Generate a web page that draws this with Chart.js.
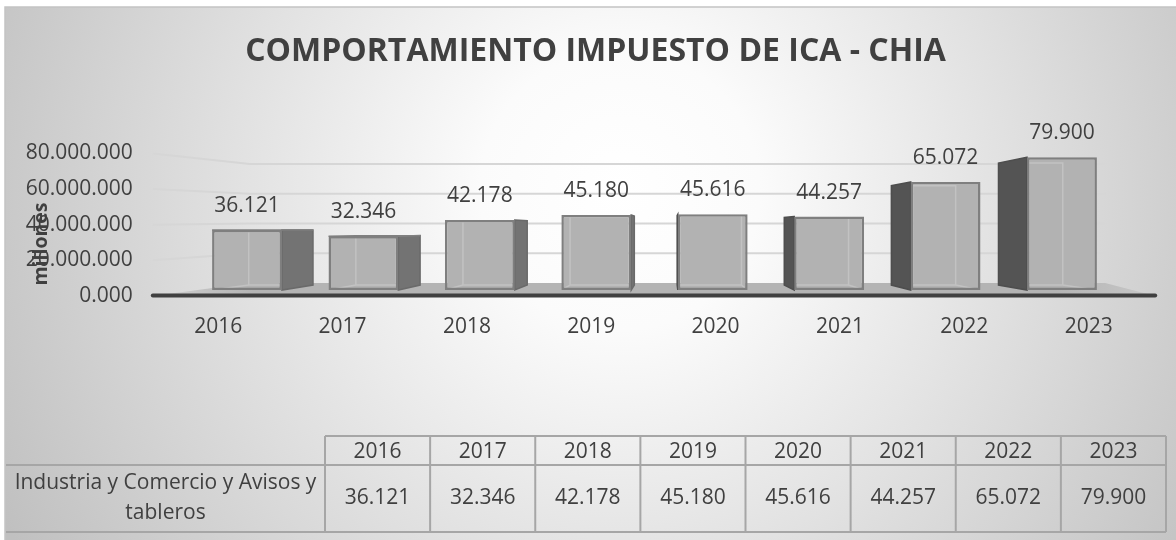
<!DOCTYPE html>
<html>
<head>
<meta charset="utf-8">
<script src="https://cdn.jsdelivr.net/npm/chart.js@4/dist/chart.umd.min.js"></script>
<style>
  html, body { margin: 0; padding: 0; background: #ffffff; }
  #wrap { width: 1176px; height: 540px; }
</style>
</head>
<body>
<div id="wrap"><canvas id="c" width="1176" height="540"></canvas></div>
<script>
// ---- DATA ----
const chartTitle = 'COMPORTAMIENTO IMPUESTO DE ICA - CHIA';
const categories = ['2016', '2017', '2018', '2019', '2020', '2021', '2022', '2023'];
const seriesName = 'Industria y Comercio y Avisos y tableros';
const seriesLabelLines = ['Industria y Comercio y Avisos y', 'tableros'];
const icaValues = [36121, 32346, 42178, 45180, 45616, 44257, 65072, 79900];
const yTickValues = [0, 20000, 40000, 60000, 80000];
const yTickLabels = ['0.000', '20.000.000', '40.000.000', '60.000.000', '80.000.000'];
const yAxisTitle = 'millones';

// ---- STYLE ----
const FONT = "'Open Sans', 'DejaVu Sans', sans-serif";
const TEXT = '#404040';
const V = { x: 670, y: 228 };      // perspective vanishing point
const DEPTH = 0.08;                // box depth factor
const LABEL_SPREAD = 1.068;        // floor-front spread for category labels

function fmt(v) { return (v / 1000).toFixed(3); }
function back(x, y) { return { x: x + (V.x - x) * DEPTH, y: y + (V.y - y) * DEPTH }; }
function poly(ctx, pts) {
  ctx.beginPath();
  ctx.moveTo(pts[0].x, pts[0].y);
  for (let i = 1; i < pts.length; i++) ctx.lineTo(pts[i].x, pts[i].y);
  ctx.closePath();
}

const bgPlugin = {
  id: 'bg',
  beforeDraw(chart) {
    const ctx = chart.ctx;
    ctx.save();
    ctx.fillStyle = '#ffffff';
    ctx.fillRect(0, 0, chart.width, chart.height);
    const g = ctx.createRadialGradient(620, 190, 0, 620, 190, 700);
    g.addColorStop(0, '#ffffff');
    g.addColorStop(0.2, '#fbfbfb');
    g.addColorStop(1, '#c0c0c0');
    ctx.fillStyle = g;
    ctx.fillRect(5, 7, chart.width - 5, chart.height - 7);
    ctx.strokeStyle = '#c4c4c4';
    ctx.lineWidth = 1.5;
    ctx.strokeRect(5, 7, chart.width, chart.height);
    ctx.restore();
  }
};

const scenePlugin = {
  id: 'scene',
  beforeDatasetsDraw(chart) {
    const ctx = chart.ctx;
    const ca = chart.chartArea;
    const y2 = chart.scales.y2;
    const wallX = ca.left - 36, cornerX = ca.left + 61;
    const backRight = ca.right - 15, frontRight = ca.right + 35;
    const floorFront = y2.getPixelForValue(0);
    const floorBack = floorFront - 13;
    const wallRatio = (floorBack - 164) / (floorFront - y2.getPixelForValue(80000));
    ctx.save();
    // gridlines
    ctx.strokeStyle = '#d6d6d6';
    ctx.lineWidth = 2;
    yTickValues.forEach(v => {
      if (v === 0) return;
      const fy = y2.getPixelForValue(v);
      const by = floorBack - (floorFront - fy) * wallRatio;
      ctx.beginPath();
      ctx.moveTo(wallX, fy);
      ctx.lineTo(cornerX, by);
      ctx.lineTo(backRight, by);
      ctx.stroke();
    });
    // floor
    const fg = ctx.createLinearGradient(wallX, 0, frontRight, 0);
    fg.addColorStop(0, '#d0d0d0');
    fg.addColorStop(0.1, '#b4b4b4');
    fg.addColorStop(0.9, '#b4b4b4');
    fg.addColorStop(1, '#c8c8c8');
    ctx.fillStyle = fg;
    poly(ctx, [{x: wallX, y: floorFront}, {x: cornerX, y: floorBack}, {x: backRight, y: floorBack}, {x: frontRight, y: floorFront}]);
    ctx.fill();
    ctx.strokeStyle = '#404040';
    ctx.lineWidth = 4;
    ctx.lineCap = 'round';
    ctx.beginPath();
    ctx.moveTo(wallX, floorFront - 0.5);
    ctx.lineTo(frontRight, floorFront - 0.5);
    ctx.stroke();
    // side and top faces of boxes
    const meta = chart.getDatasetMeta(0);
    meta.data.forEach(el => {
      const p = el.getProps(['x', 'y', 'base', 'width'], true);
      const x0 = p.x - p.width / 2, x1 = p.x + p.width / 2, T = p.y, B = p.base;
      ctx.lineWidth = 1.5;
      ctx.lineCap = 'butt';
      if (x1 < V.x) {
        poly(ctx, [{x: x1, y: T}, back(x1, T), back(x1, B), {x: x1, y: B}]);
        ctx.fillStyle = '#737373';
        ctx.strokeStyle = '#6a6a6a';
        ctx.fill(); ctx.stroke();
      } else if (x0 > V.x) {
        poly(ctx, [{x: x0, y: T}, back(x0, T), back(x0, B), {x: x0, y: B}]);
        ctx.fillStyle = '#545454';
        ctx.strokeStyle = '#4e4e4e';
        ctx.fill(); ctx.stroke();
      }
      if (T > V.y) {
        poly(ctx, [{x: x0, y: T}, {x: x1, y: T}, back(x1, T), back(x0, T)]);
        ctx.fillStyle = '#a8a8a8';
        ctx.strokeStyle = '#808080';
        ctx.fill(); ctx.stroke();
      }
    });
    ctx.restore();
  },
  afterDatasetsDraw(chart) {
    const ctx = chart.ctx;
    const meta = chart.getDatasetMeta(0);
    ctx.save();
    meta.data.forEach((el, i) => {
      const p = el.getProps(['x', 'y', 'base', 'width'], true);
      const x0 = p.x - p.width / 2, x1 = p.x + p.width / 2, T = p.y, B = p.base;
      // inner (back) edges seen through the front face
      ctx.save();
      ctx.beginPath();
      ctx.rect(x0 + 2.5, T + 2.5, p.width - 5, B - T - 5);
      ctx.clip();
      ctx.strokeStyle = '#c2c2c2';
      ctx.lineWidth = 1.5;
      const a = back(x0, T), b = back(x1, T), c = back(x1, B), d = back(x0, B);
      poly(ctx, [a, b, c, d]);
      ctx.stroke();
      ctx.beginPath();
      ctx.moveTo(x0, B); ctx.lineTo(d.x, d.y);
      ctx.moveTo(x1, B); ctx.lineTo(c.x, c.y);
      ctx.stroke();
      ctx.restore();
      // data label
      ctx.fillStyle = TEXT;
      ctx.font = '21px ' + FONT;
      ctx.textAlign = 'center';
      ctx.textBaseline = 'middle';
      ctx.fillText(fmt(icaValues[i]), p.x, T - 24);
      // category label on the floor front
      ctx.fillText(categories[i], V.x + (p.x - V.x) * LABEL_SPREAD, 327);
    });
    // y axis title
    ctx.save();
    ctx.translate(41, 244);
    ctx.rotate(-Math.PI / 2);
    ctx.font = 'bold 19.5px ' + FONT;
    ctx.fillStyle = TEXT;
    ctx.textAlign = 'center';
    ctx.textBaseline = 'middle';
    ctx.fillText(yAxisTitle, 0, 0);
    ctx.restore();
    ctx.restore();
  }
};

const tablePlugin = {
  id: 'dataTable',
  afterDraw(chart) {
    const ctx = chart.ctx;
    const L = 6, LR = 325, R = 1166, TOP = 436, MID = 465, BOT = 532;
    const cw = (R - LR) / categories.length;
    ctx.save();
    ctx.strokeStyle = '#a6a6a6';
    ctx.lineWidth = 2;
    ctx.beginPath();
    ctx.moveTo(LR, TOP); ctx.lineTo(R, TOP);
    ctx.moveTo(L, MID); ctx.lineTo(R, MID);
    ctx.moveTo(L, BOT); ctx.lineTo(R, BOT);
    for (let i = 0; i <= categories.length; i++) {
      const x = LR + cw * i;
      ctx.moveTo(x, TOP); ctx.lineTo(x, BOT);
    }
    ctx.stroke();
    ctx.fillStyle = TEXT;
    ctx.font = '21px ' + FONT;
    ctx.textAlign = 'center';
    ctx.textBaseline = 'middle';
    categories.forEach((c, i) => {
      const cx = LR + cw * (i + 0.5);
      ctx.fillText(c, cx, (TOP + MID) / 2 + 2);
      ctx.fillText(fmt(icaValues[i]), cx, (MID + BOT) / 2);
    });
    ctx.fillText(seriesLabelLines[0], (L + LR) / 2, 483);
    ctx.fillText(seriesLabelLines[1], (L + LR) / 2, 513);
    ctx.restore();
  }
};

new Chart(document.getElementById('c'), {
  type: 'bar',
  data: {
    labels: categories,
    datasets: [{
      label: seriesName,
      data: icaValues,
      yAxisID: 'y',
      backgroundColor: '#b2b2b2',
      borderColor: '#7f7f7f',
      borderWidth: 2.5,
      borderSkipped: false,
      barPercentage: 0.6,
      categoryPercentage: 1.0
    }]
  },
  options: {
    responsive: false,
    devicePixelRatio: 1,
    animation: false,
    layout: { padding: { left: 15, right: 0, top: 0, bottom: 244 } },
    plugins: {
      legend: { display: false },
      tooltip: { enabled: false },
      title: {
        display: true,
        text: chartTitle,
        color: TEXT,
        font: { family: FONT, size: 32, weight: 'bold' },
        padding: { top: 33, bottom: 82 }
      }
    },
    scales: {
      x: { display: false, offset: true },
      y: {
        position: 'right',
        display: true,
        min: -3604,
        max: 82282,
        ticks: { display: false },
        grid: { display: false },
        border: { display: false },
        afterFit(s) { s.width = 55.8; }
      },
      y2: {
        position: 'left',
        min: 0,
        max: 80000,
        afterBuildTicks(s) { s.ticks = yTickValues.map(v => ({ value: v })); },
        ticks: {
          padding: 48,
          color: TEXT,
          font: { family: FONT, size: 21 },
          callback(v) { return yTickLabels[yTickValues.indexOf(v)]; }
        },
        grid: { display: false },
        border: { display: false },
        afterFit(s) { s.width = 173.8; }
      }
    }
  },
  plugins: [bgPlugin, scenePlugin, tablePlugin]
});
</script>
</body>
</html>
